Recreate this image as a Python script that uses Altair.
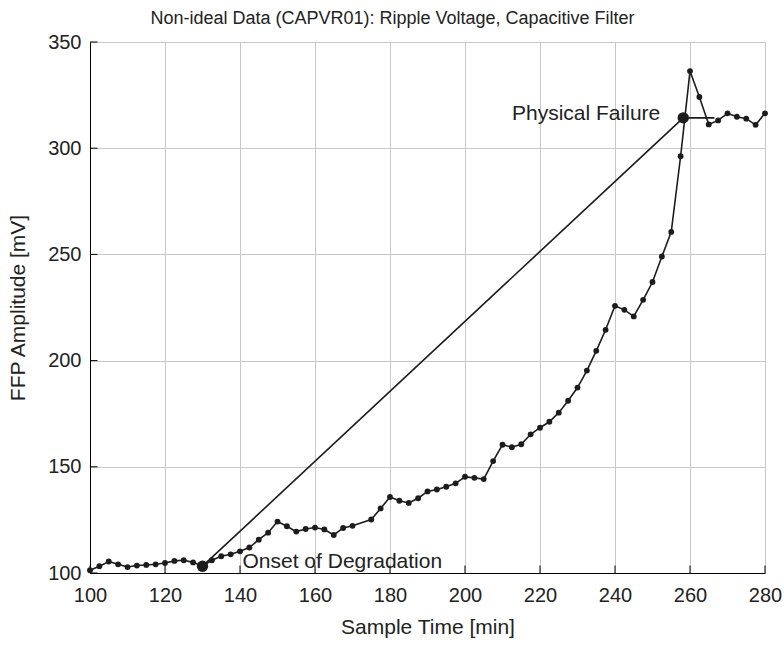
import altair as alt
import pandas as pd

# ---- data ----
time_min = [100, 102.5, 105, 107.5, 110, 112.5, 115, 117.5, 120, 122.5, 125, 127.5,
            130, 132.5, 135, 137.5, 140, 142.5, 145, 147.5, 150, 152.5, 155, 157.5,
            160, 162.5, 165, 167.5, 170, 175, 177.5, 180, 182.5, 185, 187.5, 190,
            192.5, 195, 197.5, 200, 202.5, 205, 207.5, 210, 212.5, 215, 217.5, 220,
            222.5, 225, 227.5, 230, 232.5, 235, 237.5, 240, 242.5, 245, 247.5, 250,
            252.5, 255, 257.5, 260, 262.5, 265, 267.5, 270, 272.5, 275, 277.5, 280]
ffp_mv = [101.3, 103.2, 105.4, 104.1, 102.8, 103.5, 103.8, 104.1, 104.7, 105.7, 106.0, 105.0,
          103.2, 106.0, 107.9, 108.8, 110.2, 112.0, 115.7, 119.0, 124.2, 122.0, 119.5, 120.7,
          121.4, 120.5, 117.9, 121.2, 122.2, 125.2, 130.4, 135.8, 134.0, 133.0, 135.2, 138.4,
          139.3, 140.6, 142.2, 145.3, 144.8, 144.2, 152.7, 160.4, 159.2, 160.6, 165.3, 168.4,
          171.2, 175.5, 181.1, 187.3, 195.3, 204.6, 214.5, 225.8, 223.9, 220.8, 228.6, 237.0,
          249.0, 260.6, 296.2, 336.3, 324.1, 311.2, 313.1, 316.4, 314.8, 313.9, 311.0, 316.4]

trend_time = [130, 258.2, 266.5]
trend_mv = [103.2, 314.3, 314.3]

event_time = [130, 258.2]
event_mv = [103.2, 314.3]
event_label = ["Onset of Degradation", "Physical Failure"]

x_ticks = [100, 120, 140, 160, 180, 200, 220, 240, 260, 280]
y_ticks = [100, 150, 200, 250, 300, 350]

FONT = "Liberation Sans, Arial, Helvetica, sans-serif"
INK = "#1c1c1c"
TXT = "#222222"

W, H = 675, 531

df = pd.DataFrame({"t": time_min, "v": ffp_mv})
trend = pd.DataFrame({"t": trend_time, "v": trend_mv, "o": list(range(len(trend_time)))})
events = pd.DataFrame({"t": event_time, "v": event_mv, "label": event_label})
xt = pd.DataFrame({"t": x_ticks})
yt = pd.DataFrame({"v": y_ticks})

xs = alt.Scale(domain=[100, 280], nice=False, zero=False)
ys = alt.Scale(domain=[100, 350], nice=False, zero=False)

x_axis = alt.Axis(values=x_ticks, title="Sample Time [min]", grid=True, ticks=False, tickSize=0,
                  labelPadding=12, labelFlush=False, labelOverlap=False,
                  titleY=60, titleBaseline="alphabetic")
y_axis = alt.Axis(values=y_ticks, title="FFP Amplitude [mV]", grid=True, ticks=False, tickSize=0,
                  labelPadding=9, labelFlush=False, labelOverlap=False,
                  titleX=-66, titleBaseline="alphabetic", titleAngle=270)

X = alt.X("t:Q", scale=xs, axis=x_axis, title="Sample Time [min]")
Y = alt.Y("v:Q", scale=ys, axis=y_axis, title="FFP Amplitude [mV]")

data_line = alt.Chart(df).mark_line(color=INK, strokeWidth=1.6).encode(x=X, y=Y)
data_pts = alt.Chart(df).mark_circle(color=INK, opacity=1, size=34).encode(x=X, y=Y)

trend_line = alt.Chart(trend).mark_line(color=INK, strokeWidth=1.6).encode(
    x=X, y=Y, order="o:O")

event_pts = alt.Chart(events).mark_circle(color=INK, opacity=1, size=130).encode(x=X, y=Y)

onset_txt = alt.Chart(events).transform_filter(
    alt.datum.label == "Onset of Degradation").mark_text(
    align="left", baseline="alphabetic", dx=40, dy=2, fontSize=21, font=FONT, color=TXT
).encode(x=X, y=Y, text="label:N")

fail_txt = alt.Chart(events).transform_filter(
    alt.datum.label == "Physical Failure").mark_text(
    align="right", baseline="alphabetic", dx=-23, dy=2.5, fontSize=21, font=FONT, color=TXT
).encode(x=X, y=Y, text="label:N")

x_tick_marks = alt.Chart(xt).mark_rule(color="#000000", strokeWidth=1).encode(
    x=X, y=alt.value(H), y2=alt.value(H - 7.5))
y_tick_marks = alt.Chart(yt).mark_rule(color="#000000", strokeWidth=1).encode(
    y=Y, x=alt.value(0), x2=alt.value(7.5))

chart = alt.layer(
    data_line, x_tick_marks, y_tick_marks, trend_line, data_pts, event_pts, onset_txt, fail_txt
).properties(
    width=W, height=H,
    title=alt.TitleParams(
        text="Non-ideal Data (CAPVR01): Ripple Voltage, Capacitive Filter",
        fontSize=18, font=FONT, fontWeight="normal", color=TXT,
        anchor="middle", frame="group", dx=-35, dy=10, offset=0, baseline="alphabetic"),
    autosize=alt.AutoSizeParams(type="none"),
    padding={"left": 90, "top": 42, "right": 19, "bottom": 72},
).configure_view(stroke=None).configure_axis(
    labelFont=FONT, labelFontSize=20, labelColor=TXT,
    titleFont=FONT, titleFontSize=21, titleFontWeight="normal", titleColor=TXT,
    domainColor="#000000", domainWidth=1,
    gridColor="#c8c8c8", gridWidth=1,
)

chart.save("out.html", embed_options={"renderer": "svg", "actions": False})
